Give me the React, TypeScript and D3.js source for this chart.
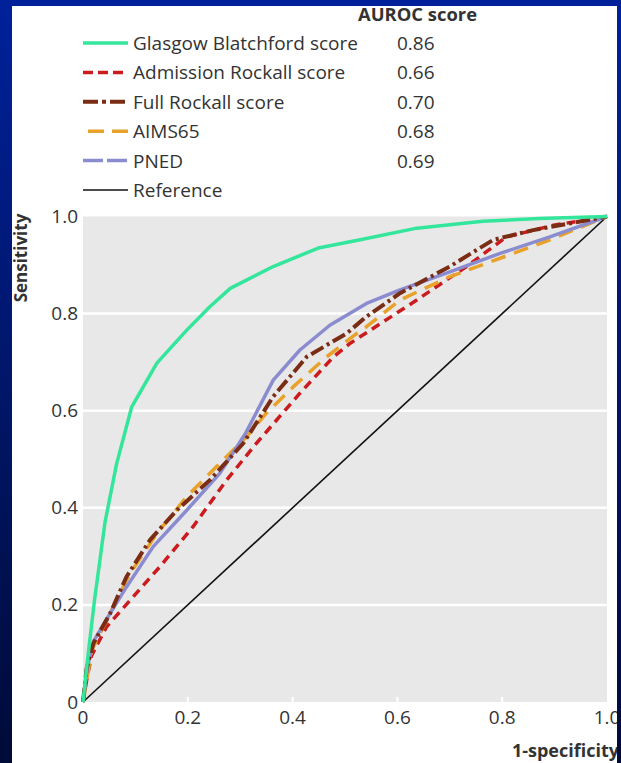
import React from "react";
import * as d3 from "d3";

type Pt = [number, number];

const glasgow: Pt[] = [[0,0],[0.01,0.1],[0.022,0.21],[0.042,0.37],[0.064,0.49],[0.093,0.608],[0.141,0.698],[0.198,0.766],[0.242,0.814],[0.281,0.852],[0.363,0.897],[0.449,0.935],[0.529,0.952],[0.637,0.976],[0.763,0.99],[0.87,0.996],[1,1]];
const admission: Pt[] = [[0,0],[0.007,0.045],[0.016,0.095],[0.045,0.155],[0.096,0.217],[0.147,0.279],[0.21,0.361],[0.274,0.457],[0.331,0.533],[0.414,0.636],[0.478,0.711],[0.51,0.739],[0.637,0.828],[0.732,0.897],[0.808,0.958],[0.898,0.982],[1,1]];
const fullRockall: Pt[] = [[0,0],[0.007,0.07],[0.02,0.121],[0.052,0.183],[0.083,0.258],[0.128,0.334],[0.179,0.395],[0.242,0.457],[0.306,0.533],[0.363,0.629],[0.427,0.711],[0.503,0.759],[0.541,0.794],[0.605,0.842],[0.7,0.897],[0.783,0.952],[0.859,0.972],[1,1]];
const aims65: Pt[] = [[0,0],[0.008,0.05],[0.016,0.105],[0.039,0.155],[0.064,0.21],[0.09,0.265],[0.141,0.347],[0.198,0.423],[0.255,0.485],[0.312,0.546],[0.35,0.595],[0.401,0.649],[0.465,0.711],[0.522,0.759],[0.541,0.773],[0.605,0.828],[0.7,0.876],[0.796,0.914],[0.891,0.952],[1,1]];
const pned: Pt[] = [[0,0],[0.008,0.07],[0.02,0.125],[0.052,0.183],[0.083,0.237],[0.134,0.32],[0.198,0.395],[0.261,0.471],[0.31,0.553],[0.363,0.663],[0.414,0.725],[0.471,0.776],[0.541,0.821],[0.605,0.849],[0.7,0.886],[0.796,0.924],[0.891,0.958],[1,1]];
const reference: Pt[] = [[0,0],[1,1]];

const seriesNames = ["Glasgow Blatchford score","Admission Rockall score","Full Rockall score","AIMS65","PNED","Reference"];
const aurocScores = ["0.86","0.66","0.70","0.68","0.69",""];
const xTicks = [0,0.2,0.4,0.6,0.8,1.0];
const yTicks = [0,0.2,0.4,0.6,0.8,1.0];

const W = 621, H = 763;
const PL = 83, PR = 607, PT = 216.5, PB = 702;
const FONT = "'Open Sans', 'Noto Sans', sans-serif";
const TXT = "#333";

const styles = [
  { color: "#34e69c", width: 3.5, dash: undefined, legendDash: undefined },
  { color: "#cc1b1e", width: 3.5, dash: "9 6", legendDash: "10 5" },
  { color: "#7a2c14", width: 4, dash: "14 4 3 4", legendDash: "15 4 4 4" },
  { color: "#e8a22a", width: 3.5, dash: "15 9", legendDash: "0 5 16 8 16" },
  { color: "#8b8bd0", width: 3.5, dash: undefined, legendDash: "20 4" },
  { color: "#111", width: 1.6, dash: undefined, legendDash: undefined },
];

export default function App() {
  const x = d3.scaleLinear().domain([0, 1]).range([PL, PR]);
  const y = d3.scaleLinear().domain([0, 1]).range([PB, PT]);
  const line = d3.line<Pt>().x(d => x(d[0])).y(d => y(d[1])).curve(d3.curveLinear);
  const data = [glasgow, admission, fullRockall, aims65, pned, reference];
  const drawOrder = [5, 1, 3, 4, 2, 0];
  const fmt = (v: number) => (v === 0 ? "0" : v.toFixed(1));

  return (
    <svg width={W} height={H} style={{ position: "absolute", left: 0, top: 0 }}>
      <defs>
        <linearGradient id="bg" x1="0" y1="0" x2="0" y2="1">
          <stop offset="0" stopColor="#00219a" />
          <stop offset="1" stopColor="#000b38" />
        </linearGradient>
      </defs>
      <rect x={0} y={0} width={W} height={H} fill="url(#bg)" />
      <rect x={12} y={6} width={605} height={H - 6} fill="#fff" />

      {/* legend */}
      <text x={358} y={21} fontFamily={FONT} fontWeight={700} fontSize={18} fill={TXT} textLength={119} lengthAdjust="spacingAndGlyphs">AUROC score</text>
      {seriesNames.map((n, i) => {
        const cy = 43 + i * 29.4;
        const s = styles[i];
        return (
          <g key={n}>
            <line x1={83} x2={128} y1={cy} y2={cy} stroke={s.color} strokeWidth={s.width} strokeDasharray={s.legendDash} />
            <text x={133} y={cy + 7} fontFamily={FONT} fontSize={19} fill={TXT}>{n}</text>
            <text x={397} y={cy + 7} fontFamily={FONT} fontSize={19} fill={TXT}>{aurocScores[i]}</text>
          </g>
        );
      })}

      {/* plot background */}
      <rect x={PL} y={PT} width={PR - PL} height={PB - PT} fill="#e8e8e8" />
      {yTicks.filter(t => t > 0 && t < 1).map(t => (
        <line key={t} x1={PL} x2={PR} y1={y(t)} y2={y(t)} stroke="#fff" strokeWidth={2.5} />
      ))}
      {xTicks.filter(t => t > 0 && t < 1).map(t => (
        <line key={t} x1={x(t)} x2={x(t)} y1={PB - 5} y2={PB} stroke="#fff" strokeWidth={2} />
      ))}

      {drawOrder.map(i => (
        <path key={i} d={line(data[i]) || ""} fill="none" stroke={styles[i].color}
          strokeWidth={styles[i].width} strokeDasharray={styles[i].dash} strokeLinejoin="round" />
      ))}

      {/* axes labels */}
      {yTicks.map(t => (
        <text key={t} x={78} y={y(t) + 6.5} textAnchor="end" fontFamily={FONT} fontSize={19} fill={TXT}>{fmt(t)}</text>
      ))}
      {xTicks.map(t => (
        <text key={t} x={x(t)} y={724} textAnchor="middle" fontFamily={FONT} fontSize={19} fill={TXT}>{fmt(t)}</text>
      ))}
      <text transform="translate(27,258) rotate(-90)" textAnchor="middle" fontFamily={FONT} fontWeight={700} fontSize={17} fill={TXT}>Sensitivity</text>
      <text x={619} y={757} textAnchor="end" fontFamily={FONT} fontWeight={700} fontSize={18} fill={TXT}>1-specificity</text>

      <rect x={617} y={0} width={4} height={H} fill="url(#bg)" />
    </svg>
  );
}
